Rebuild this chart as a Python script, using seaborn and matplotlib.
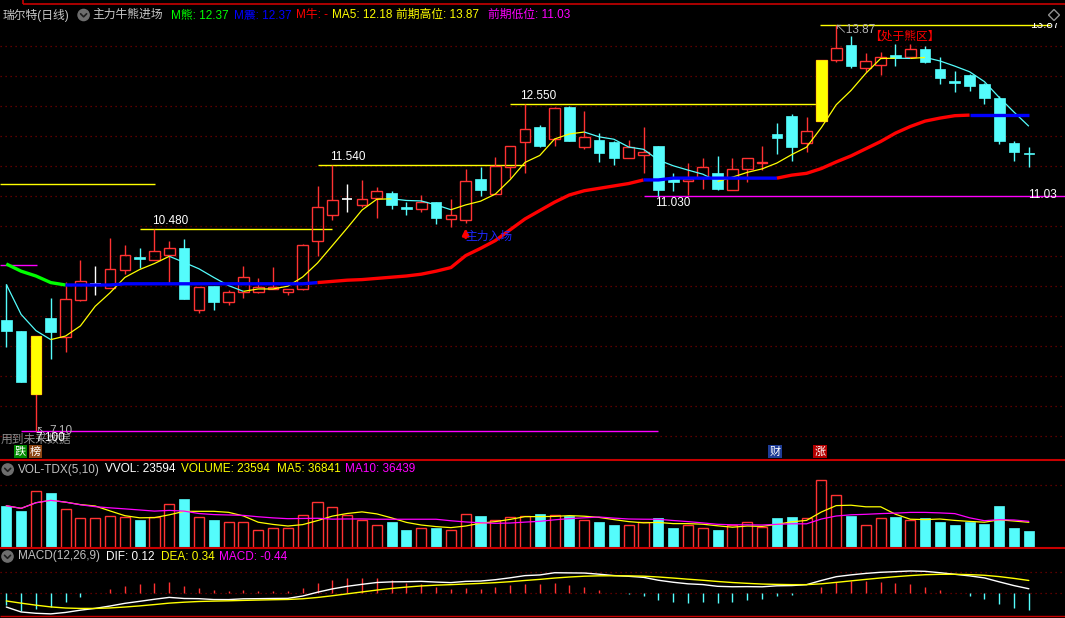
import numpy as np
import pandas as pd
import seaborn as sns
import matplotlib.pyplot as plt
from matplotlib.patches import Circle, Polygon

# ---- daily candles ----
opens = [8.95, 8.77, 7.72, 8.99, 8.68, 9.29, 9.56, 9.49, 9.79, 10.01,
         9.95, 10.04, 10.16, 9.12, 9.52, 9.26, 9.42, 9.42, 9.47, 9.42,
         9.48, 10.28, 10.70, 10.97, 10.88, 10.99, 11.08, 10.84, 10.80, 10.92,
         10.64, 10.62, 11.30, 11.05, 11.50, 11.93, 12.18, 11.98, 12.50, 11.84,
         11.95, 11.93, 11.66, 11.70, 11.85, 11.32, 11.28, 11.32, 11.40, 11.12,
         11.48, 11.58, 12.05, 12.36, 11.90, 12.27, 13.28, 13.54, 13.16, 13.21,
         13.37, 13.33, 13.47, 13.14, 12.94, 13.03, 12.89, 12.65, 11.90, 11.74]
highs = [9.55, 8.78, 8.69, 9.32, 9.59, 9.96, 9.85, 10.33, 10.20, 10.16,
         10.48, 10.28, 10.30, 9.51, 9.52, 9.45, 9.85, 9.65, 9.84, 9.48,
         10.22, 11.19, 11.54, 11.23, 11.29, 11.18, 11.11, 10.93, 11.04, 10.92,
         10.97, 11.47, 11.50, 11.67, 11.85, 12.55, 12.20, 12.50, 12.52, 12.44,
         12.08, 11.94, 11.96, 12.17, 11.85, 11.40, 11.58, 11.65, 11.69, 11.66,
         11.66, 11.85, 12.23, 12.38, 12.34, 13.29, 13.87, 13.68, 13.40, 13.42,
         13.56, 13.55, 13.52, 13.33, 13.11, 13.05, 12.90, 12.68, 11.94, 11.84]
lows = [8.51, 7.92, 7.10, 8.31, 8.43, 9.27, 9.37, 9.49, 9.72, 9.82,
        9.95, 9.58, 9.30, 9.07, 9.12, 9.21, 9.32, 9.40, 9.47, 9.38,
        9.46, 10.02, 10.62, 10.76, 10.84, 10.66, 10.80, 10.70, 10.75, 10.55,
        10.51, 10.57, 11.02, 11.05, 11.32, 11.41, 11.84, 11.85, 11.94, 11.80,
        11.59, 11.54, 11.66, 11.41, 11.03, 11.10, 11.04, 11.14, 11.12, 11.12,
        11.25, 11.45, 11.72, 11.61, 11.76, 12.27, 13.25, 13.15, 13.08, 13.04,
        13.18, 13.32, 13.24, 12.89, 12.75, 12.77, 12.56, 11.89, 11.61, 11.51]
closes = [8.77, 7.92, 8.69, 8.76, 9.31, 9.61, 9.56, 9.81, 10.04, 9.97,
          10.11, 10.16, 9.30, 9.51, 9.25, 9.43, 9.68, 9.50, 9.51, 9.48,
          10.20, 10.84, 10.95, 10.97, 10.98, 11.10, 10.88, 10.81, 10.93, 10.65,
          10.70, 11.28, 11.12, 11.52, 11.85, 12.14, 11.86, 12.49, 11.94, 12.01,
          11.74, 11.66, 11.84, 11.75, 11.12, 11.26, 11.30, 11.50, 11.14, 11.48,
          11.66, 11.59, 11.99, 11.84, 12.10, 13.29, 13.49, 13.18, 13.27, 13.33,
          13.32, 13.47, 13.26, 12.98, 12.90, 12.85, 12.65, 11.94, 11.76, 11.72]
prior_closes = [10.42, 10.04, 9.51, 9.01]   # bars just left of the window
signal_bars = [2, 55]                       # bars painted yellow

volumes = [59900, 52400, 80200, 77600, 54800, 42500, 42500, 45300, 43900, 39700,
           43900, 62300, 70000, 43900, 39700, 36800, 36800, 25500, 28300, 28300,
           46800, 65200, 57400, 46800, 39700, 32600, 36800, 25500, 28300, 28300,
           25500, 48200, 45300, 39700, 43900, 45300, 48200, 46800, 45300, 39700,
           36800, 32600, 32600, 36800, 42500, 28300, 32600, 28300, 25500, 32600,
           36800, 29800, 42500, 43900, 42500, 96400, 75100, 45300, 32600, 42500,
           43900, 39700, 42500, 36800, 32600, 36800, 34000, 59500, 28300, 23594]

# bull / bear line (M熊 / M震 / M牛)
trend_line = [9.89, 9.77, 9.69, 9.58, 9.54, 9.54, 9.54, 9.54, 9.56, 9.56,
              9.56, 9.56, 9.56, 9.56, 9.56, 9.56, 9.56, 9.56, 9.56, 9.56,
              9.56, 9.58, 9.60, 9.62, 9.63, 9.65, 9.67, 9.69, 9.72, 9.77,
              9.83, 10.03, 10.15, 10.28, 10.46, 10.64, 10.78, 10.92, 11.04, 11.11,
              11.15, 11.19, 11.23, 11.29, 11.29, 11.32, 11.32, 11.32, 11.32, 11.32,
              11.32, 11.32, 11.32, 11.37, 11.40, 11.48, 11.59, 11.69, 11.81, 11.93,
              12.07, 12.18, 12.27, 12.32, 12.36, 12.37, 12.37, 12.37, 12.37, 12.37]
trend_state = ("GGGGG" "BBBBBBBBBBBBBBBBB" "RRRRRRRRRRRRRRRRRRRRRR"
               "BBBBBBBBB" "RRRRRRRRRRRRR" "BBBB")

# horizontal level lines: price, from bar, to bar, colour
lvl_price = [11.23, 9.87, 10.48, 11.54, 12.55, 13.87, 7.10, 11.03]
lvl_start = [-0.43, -0.43, 9.0, 21.0, 34.0, 54.9, 1.0, 43.0]
lvl_end = [10.03, 2.07, 22.0, 35.0, 55.0, 70.4, 44.0, 71.44]
lvl_color = ['#ffff00', '#ff00ff', '#ffff00', '#ffff00', '#ffff00', '#ffff00', '#ff00ff', '#ff00ff']

RED = '#ff3232'
CYAN = '#54fcfc'
YELLOW = '#ffff00'
MAGENTA = '#ff00ff'
BLUE = '#0000ff'
GREEN = '#00ff00'
GRID = '#7a0000'


def colored_line(ax, xs, ys, cols, lw, z):
    # segment (i-1, i) takes colour cols[i]
    start = 1
    n = len(xs)
    for i in range(2, n + 1):
        if i == n or cols[i] != cols[start]:
            ax.plot(xs[start - 1:i], ys[start - 1:i], color=cols[start], lw=lw,
                    zorder=z, solid_capstyle='butt')
            start = i


def ema(values, seed, n):
    a = 2.0 / (n + 1)
    out = []
    y = seed
    for v in values:
        y = a * v + (1 - a) * y
        out.append(y)
    return np.array(out)


def generate_chart():
    o = np.array(opens)
    h = np.array(highs)
    l = np.array(lows)
    c = np.array(closes)
    v = np.array(volumes)
    x = np.arange(len(c))

    full = pd.Series(prior_closes + closes)
    ma5 = full.rolling(5).mean().values[len(prior_closes):]
    e12 = ema(full.values, 10.5, 12)
    e26 = ema(full.values, 10.6, 26)
    dif_all = e12 - e26
    dea_all = ema(dif_all, -0.12, 9)
    dif = dif_all[len(prior_closes):]
    dea = dea_all[len(prior_closes):]
    hist = 2 * (dif - dea)
    vma5 = pd.Series(v).rolling(5, min_periods=1).mean().values
    vma10 = pd.Series(v).rolling(10, min_periods=1).mean().values

    sns.set_theme(style='dark', rc={'axes.facecolor': 'black', 'figure.facecolor': 'black'})
    plt.rcParams['font.family'] = ['Liberation Sans', 'Noto Sans CJK SC', 'DejaVu Sans']

    fig = plt.figure(figsize=(10.65, 6.18), dpi=100)
    fig.patch.set_facecolor('black')

    def panel(top, bottom):
        ax = fig.add_axes([0, 1 - bottom / 618, 1, (bottom - top) / 618])
        ax.set_xlim(-0.425, 71.44)
        ax.axis('off')
        return ax

    main = panel(23, 460)
    volax = panel(460, 548)
    mac = panel(548, 618)
    main.set_ylim(6.625, 13.904)

    # dotted grid
    for g in np.arange(7.03, 13.6, 0.4996):
        main.axhline(g, color=GRID, ls=(0, (1, 3)), lw=0.9, zorder=1)
    volax.axhline(89300, color=GRID, ls=(0, (1, 3)), lw=0.9, zorder=1)
    mac.axhline(0.553, color=GRID, ls=(0, (1, 3)), lw=0.9, zorder=1)
    mac.axhline(0, color=GRID, ls=(0, (1, 3)), lw=0.9, zorder=1)

    # level lines
    for p, s, e, col in zip(lvl_price, lvl_start, lvl_end, lvl_color):
        main.hlines(p, s, e, color=col, lw=1, zorder=2)

    # candles
    bw = 0.72
    up = c > o
    dn = c < o
    fl = c == o
    main.vlines(x[up], np.maximum(o, c)[up], h[up], color=RED, lw=1, zorder=3)
    main.vlines(x[up], l[up], np.minimum(o, c)[up], color=RED, lw=1, zorder=3)
    main.bar(x[up], (c - o)[up], bottom=o[up], width=bw, facecolor='none',
             edgecolor=RED, linewidth=1, zorder=3)
    main.vlines(x[dn], l[dn], h[dn], color=CYAN, lw=1, zorder=3)
    main.bar(x[dn], (o - c)[dn], bottom=c[dn], width=bw, color=CYAN,
             edgecolor=CYAN, linewidth=0.5, zorder=3)
    main.vlines(x[fl], l[fl], h[fl], color='white', lw=1, zorder=3)
    main.hlines(c[fl], x[fl] - bw / 2, x[fl] + bw / 2, color='white', lw=1.2, zorder=3)
    sb = np.array(signal_bars)
    main.bar(x[sb], np.abs(c - o)[sb], bottom=np.minimum(o, c)[sb], width=bw,
             color=YELLOW, edgecolor=YELLOW, linewidth=0.5, zorder=3.5)

    # MA5 (yellow rising / cyan falling) and trend line
    ma_cols = [YELLOW] + [YELLOW if ma5[i] >= ma5[i - 1] else CYAN for i in range(1, len(ma5))]
    colored_line(main, x, ma5, ma_cols, 0.9, 4)
    state_cols = {'G': GREEN, 'B': BLUE, 'R': '#ff0000'}
    colored_line(main, x, np.array(trend_line), [state_cols[s] for s in trend_state], 2.4, 5)

    # labels on the price panel
    lbl = dict(color='white', fontsize=8.5, zorder=6)
    main.text(9.83, 10.48 + 0.03, f"{lvl_price[2]:.3f}", va='bottom', **lbl)
    main.text(21.84, 11.54 + 0.03, f"{lvl_price[3]:.3f}", va='bottom', **lbl)
    main.text(34.66, 12.55 + 0.03, f"{lvl_price[4]:.3f}", va='bottom', **lbl)
    main.text(43.77, 11.03 - 0.03, f"{lvl_price[7]:.3f}", va='top', **lbl)
    main.text(68.94, 11.04, f"{lvl_price[7]:.2f}", va='center', **lbl)
    main.text(69.08, 13.87, f"{lvl_price[5]:.2f}", va='center', clip_on=True, **lbl)
    main.text(55.92, 13.795, f"↖{max(highs):.2f}", va='center', color='#b4b4b4',
              fontsize=8.5, zorder=6)
    main.text(58.2, 13.675, "【处于熊区】", va='center', color='#ff0000',
              fontsize=8.5, zorder=6)
    main.annotate('', xy=(31, 10.53), xytext=(31, 10.28),
                  arrowprops=dict(arrowstyle='-|>', color='#ff0000', lw=2, mutation_scale=9),
                  zorder=6)
    main.text(30.95, 10.35, "主力入场", va='center', color='#1e28ff', fontsize=8.5, zorder=6)

    # volume
    vup = c >= o
    volax.bar(x[vup], v[vup], width=0.68, facecolor='none', edgecolor=RED, linewidth=1, zorder=3)
    volax.bar(x[~vup], v[~vup], width=0.68, color=CYAN, edgecolor=CYAN, linewidth=0.5, zorder=3)
    sns.lineplot(x=x, y=vma5, ax=volax, color=YELLOW, linewidth=0.9, zorder=4)
    sns.lineplot(x=x, y=vma10, ax=volax, color=MAGENTA, linewidth=0.9, zorder=4)
    volax.axis('off')
    volax.set_xlim(-0.425, 71.44)
    volax.set_ylim(0, 124700)

    # MACD
    mac.vlines(x, 0, hist, colors=[RED if hv >= 0 else CYAN for hv in hist], lw=1, zorder=3)
    sns.lineplot(x=x, y=dif, ax=mac, color='white', linewidth=1, zorder=4)
    sns.lineplot(x=x, y=dea, ax=mac, color=YELLOW, linewidth=1, zorder=4)
    mac.axis('off')
    mac.set_xlim(-0.425, 71.44)
    mac.set_ylim(-0.65, 1.19)

    # overlay in pixel coordinates for headers and frame
    ov = fig.add_axes([0, 0, 1, 1], zorder=10)
    ov.set_xlim(0, 1065)
    ov.set_ylim(618, 0)
    ov.axis('off')
    ov.patch.set_alpha(0)

    ov.hlines(3.6, 23.2, 1065, color='#c80000', lw=1.2)
    ov.vlines(23.2, 0, 3.6, color='#c80000', lw=1.2)
    ov.hlines([460, 548], 0, 1065, color='#c80000', lw=1.5)
    ov.hlines(615.5, 0, 1065, color='#c80000', lw=1)

    def icon(cx, cy):
        ov.add_patch(Circle((cx, cy), 5.6, color='#6e6e6e'))
        ov.plot([cx - 3, cx, cx + 3], [cy - 1.2, cy + 1.8, cy - 1.2], color='#1e1e1e', lw=1.2)

    hdr = dict(fontsize=8.5, va='center')
    icon(83.6, 15)
    ov.text(3, 15, "瑞尔特(日线)", color='#c8c8c8', **hdr)
    ov.text(92, 15, "主力牛熊进场", color='#c8c8c8', **hdr)
    ov.text(170.7, 15, f"M熊: {trend_line[-1]:.2f}", color=GREEN, **hdr)
    ov.text(234, 15, f"M震: {trend_line[-1]:.2f}", color=BLUE, **hdr)
    ov.text(296, 15, "M牛: -", color='#ff0000', **hdr)
    ov.text(332, 15, f"MA5: {ma5[-1]:.2f}", color=YELLOW, **hdr)
    ov.text(396, 15, f"前期高位: {max(highs):.2f}", color=YELLOW, **hdr)
    ov.text(487.5, 15, f"前期低位: {lvl_price[7]:.2f}", color=MAGENTA, **hdr)
    ov.add_patch(Polygon([(1054, 9.5), (1059.5, 15), (1054, 20.5), (1048.5, 15)],
                         closed=True, fill=False, edgecolor='#909090', lw=1))

    icon(7.7, 469.5)
    ov.text(17.9, 469.5, "VOL-TDX(5,10)", color='#c0c0c0', **hdr)
    ov.text(105.4, 469.5, "VVOL: 23594", color='white', **hdr)
    ov.text(181.4, 469.5, "VOLUME: 23594", color=YELLOW, **hdr)
    ov.text(276.8, 469.5, "MA5: 36841", color=YELLOW, **hdr)
    ov.text(345.4, 469.5, "MA10: 36439", color=MAGENTA, **hdr)

    icon(7.5, 556.5)
    ov.text(18, 556.5, "MACD(12,26,9)", color='#c0c0c0', **hdr)
    ov.text(106, 556.5, "DIF: 0.12", color='white', **hdr)
    ov.text(161, 556.5, "DEA: 0.34", color=YELLOW, **hdr)
    ov.text(219, 556.5, "MACD: -0.44", color=MAGENTA, **hdr)

    ov.text(1, 440, "用到未来数据", color='#8c8c8c', fontsize=8.5, va='center')
    ov.text(35, 431, "↖", color='#b4b4b4', fontsize=8, va='center')
    ov.text(49, 431, "7.10", color='#b4b4b4', fontsize=8.5, va='center')
    ov.text(35, 438, "7.100", color='white', fontsize=8.5, va='center')

    def badge(cx, cy, s, bg):
        ov.text(cx, cy, s, color='white', fontsize=8, ha='center', va='center',
                bbox=dict(boxstyle='square,pad=0.12', fc=bg, ec='none'))

    badge(20.5, 451.5, "跌", '#008a00')
    badge(35.5, 451.5, "榜", '#8b4513')
    badge(775, 451.5, "财", '#1e3c96')
    badge(820, 451.5, "涨", '#b40000')

    fig.savefig('out.png', dpi=100, facecolor='black')
    plt.close(fig)


if __name__ == "__main__":
    generate_chart()
